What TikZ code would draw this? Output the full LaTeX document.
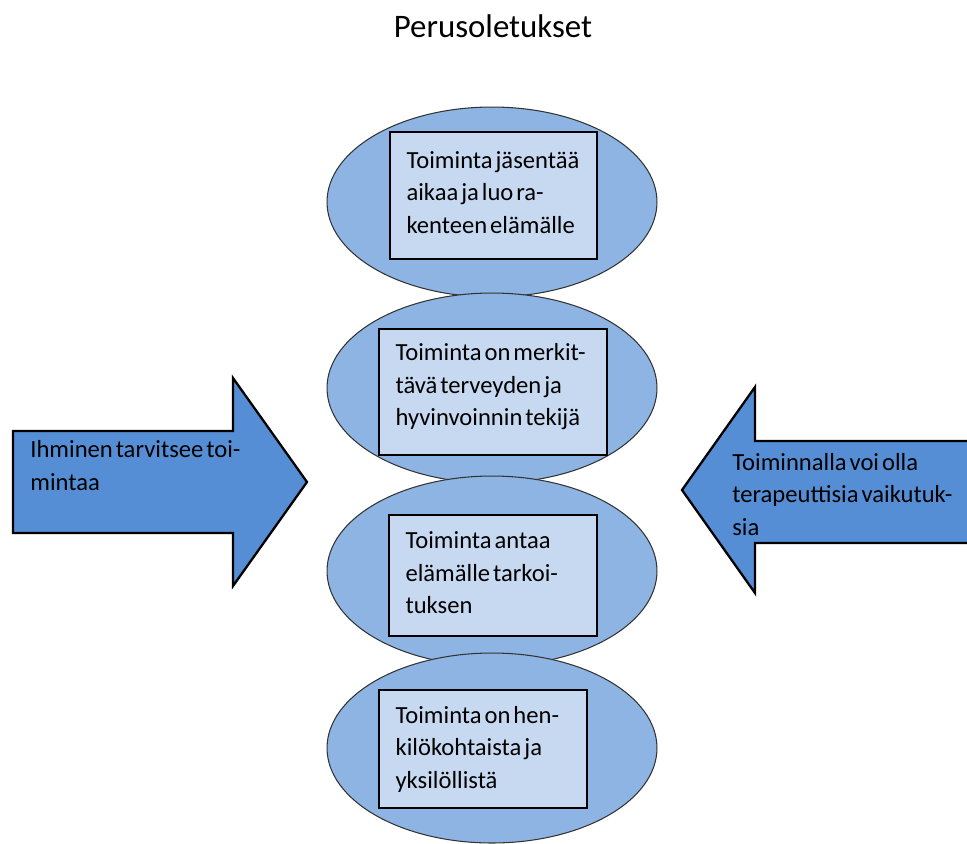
\documentclass[tikz,border=0pt]{standalone}
\usepackage{fontspec}
\setmainfont{Carlito}
\usetikzlibrary{shapes.geometric,positioning}

\definecolor{ovalblue}{RGB}{142,180,227}
\definecolor{boxblue}{RGB}{198,217,241}
\definecolor{arrowblue}{RGB}{85,142,213}

\newcommand{\bodyfont}{\fontsize{14pt}{18.5pt}\selectfont\spaceskip=0.12em}

\begin{document}
\begin{tikzpicture}[x=0.02cm,y=-0.02cm,
		oval/.style={ellipse,draw=black!80,fill=ovalblue,line width=0.6pt,minimum width=6.6cm,minimum height=3.8cm,inner sep=0pt},
		textbox/.style={rectangle,draw=black,fill=boxblue,line width=0.9pt,inner sep=0pt},
		boxtext/.style={anchor=west,inner sep=0pt,align=left,font=\bodyfont,node distance=0.34cm},
		bigarrow/.style={draw=black,fill=arrowblue,line width=1.3pt,line join=miter},
		arrowtext/.style={anchor=base west,inner sep=0pt,align=left,font=\bodyfont}]
		\useasboundingbox (0,0) rectangle (967,843);

		\node[font=\fontsize{18.7pt}{22pt}\selectfont]		(title)	at (493,26)	{Perusoletukset};

		\node[oval]		(o1)	at (492,202)	{};
		\node[oval]		(o2)	at (492,388)	{};
		\node[oval]		(o3)	at (492,571)	{};
		\node[oval]		(o4)	at (492,748)	{};

		\node[textbox,minimum width=4.14cm,minimum height=2.54cm]	(b1)	at (493.5,195.5)	{};
		\node[textbox,minimum width=4.56cm,minimum height=2.52cm]	(b2)	at (493,392)	{};
		\node[textbox,minimum width=4.16cm,minimum height=2.42cm]	(b3)	at (493,575.5)	{};
		\node[textbox,minimum width=4.16cm,minimum height=2.36cm]	(b4)	at (483,749)	{};

		\node[boxtext,right=of b1.west,yshift=0.06cm]	(t1)	{Toiminta jäsentää\\aikaa ja luo ra-\\kenteen elämälle};
		\node[boxtext,right=of b2.west,yshift=0.1cm]	(t2)	{Toiminta on merkit-\\tävä terveyden ja\\hyvinvoinnin tekijä};
		\node[boxtext,right=of b3.west,yshift=0.05cm]	(t3)	{Toiminta antaa\\elämälle tarkoi-\\tuksen};
		\node[boxtext,right=of b4.west]	(t4)	{Toiminta on hen-\\kilökohtaista ja\\yksilöllistä};

		% arrows left and right
		\draw[bigarrow] (13,431) -- (233,431) -- (233,378) -- (307,482) -- (233,586) -- (233,533) -- (13,533) -- cycle;
		\draw[bigarrow] (970,441) -- (755,441) -- (755,387) -- (682,490) -- (755,593) -- (755,543) -- (970,543) -- cycle;

		\node[arrowtext]	(lefttext)	at (30,490)	{Ihminen tarvitsee toi-\\mintaa};
		\node[arrowtext]	(righttext)	at (732,535)	{Toiminnalla voi olla\\terapeuttisia vaikutuk-\\sia};
	\end{tikzpicture}
\end{document}
